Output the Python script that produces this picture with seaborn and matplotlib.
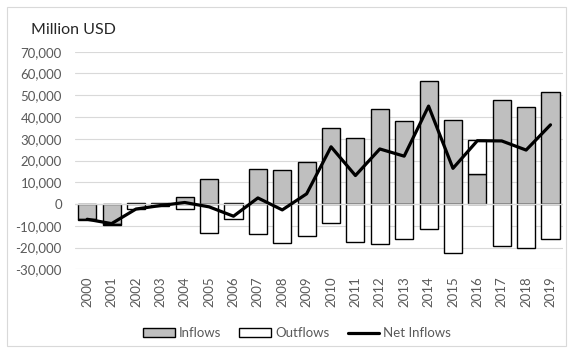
import numpy as np
import pandas as pd
import matplotlib
matplotlib.use("Agg")
import matplotlib.pyplot as plt
from matplotlib.patches import Patch, Rectangle
from matplotlib.lines import Line2D
import seaborn as sns

years = [str(y) for y in range(2000, 2020)]
inflows = [-7000, -9400, 300, 400, 3000, 11500, 700, 16300, 15600, 19200,
           34900, 30300, 43800, 38100, 56400, 38800, 13700, 47600, 44700, 51700]
outflows = [-200, -200, -2500, -900, -2400, -13100, -6700, -13800, -18100, -14600,
            -8500, -17400, -18400, -16100, -11400, -22400, 15600, -19200, -20300, -16000]
net_inflows = [-7000, -9000, -2300, -700, 700, -1300, -5600, 2800, -2700, 4700,
               26300, 13100, 25300, 22000, 45000, 16400, 29100, 29000, 24800, 36400]

ytick_vals = list(range(-30000, 70001, 10000))

# Stack each outflow on the side of zero it belongs to
out_bottom = [i if (o >= 0) == (i >= 0) else 0 for i, o in zip(inflows, outflows)]

df = pd.DataFrame({"year": years, "inflows": inflows,
                   "outflows": outflows, "bottom": out_bottom})

sns.set_theme(style="white")
plt.rcParams["font.family"] = ["Lato", "DejaVu Sans"]

fig = plt.figure(figsize=(5.73, 3.53), dpi=100)
ax = fig.add_axes([0.1309, 0.2371, 0.8511, 0.6164])

grid_c = "#d9d9d9"
for v in ytick_vals:
    ax.axhline(v, color=grid_c, lw=0.8, zorder=0)

sns.barplot(data=df, x="year", y="inflows", color="#bfbfbf", saturation=1,
            width=0.74, edgecolor="black", linewidth=1.0, ax=ax, zorder=2)
sns.barplot(data=df, x="year", y="outflows", color="white", saturation=1,
            width=0.74, edgecolor="black", linewidth=1.0, ax=ax, zorder=2,
            bottom=df["bottom"].to_numpy())
ax.axhline(0, color=grid_c, lw=1.0, zorder=3)

sns.lineplot(x=np.arange(len(years)), y=net_inflows, color="black", lw=2.3,
             ax=ax, zorder=4)

ax.set_xlim(-0.5, len(years) - 0.5)
ax.set_ylim(-30000, 70000)
ax.set_yticks(ytick_vals)
ax.set_yticklabels([f"{v:,}" for v in ytick_vals])
ax.set_xticks(range(len(years)))
ax.set_xticklabels(years, rotation=90)
ax.tick_params(axis="y", length=0, pad=9.5, labelsize=9.5, labelcolor="#595959")
ax.tick_params(axis="x", length=0, pad=5, labelsize=9.5, labelcolor="#595959")
ax.set_xlabel("")
ax.set_ylabel("")
for s in ax.spines.values():
    s.set_visible(False)

fig.text(31 / 573, 1 - 30 / 353, "Million USD", fontsize=11.5, color="#262626",
         ha="left", va="center")

handles = [Patch(facecolor="#bfbfbf", edgecolor="black", linewidth=1.0),
           Patch(facecolor="white", edgecolor="black", linewidth=1.0),
           Line2D([0], [0], color="black", lw=2.3)]
fig.legend(handles, ["Inflows", "Outflows", "Net Inflows"], loc="center",
           bbox_to_anchor=(297 / 573, 1 - 333 / 353), ncol=3, frameon=False,
           fontsize=9.5, labelcolor="#595959", handlelength=2.4, handleheight=0.6,
           handletextpad=0.3, columnspacing=1.4)

fig.patches.append(Rectangle((7 / 573, 7 / 353), 559 / 573, 339 / 353,
                             transform=fig.transFigure, fill=False,
                             edgecolor=grid_c, lw=0.8))

fig.savefig("out.png", dpi=100, facecolor="white")
